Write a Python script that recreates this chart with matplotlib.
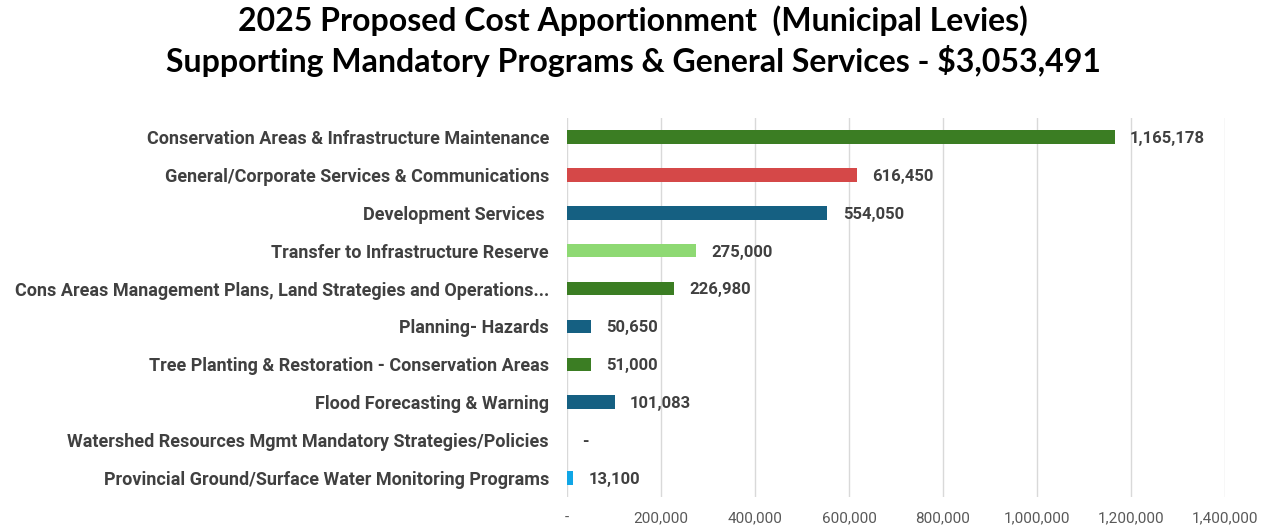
import matplotlib
matplotlib.use("Agg")
import matplotlib.pyplot as plt
from matplotlib.ticker import FuncFormatter

# data (top to bottom as shown)
categories = [
    "Conservation Areas & Infrastructure Maintenance",
    "General/Corporate Services & Communications",
    "Development Services ",
    "Transfer to Infrastructure Reserve",
    "Cons Areas Management Plans, Land Strategies and Operations...",
    "Planning- Hazards",
    "Tree Planting & Restoration - Conservation Areas",
    "Flood Forecasting & Warning",
    "Watershed Resources Mgmt Mandatory Strategies/Policies",
    "Provincial Ground/Surface Water Monitoring Programs",
]
values = [1165178, 616450, 554050, 275000, 226980, 50650, 51000, 101083, 0, 13100]
colors = ["#3B7D23", "#D54848", "#156082", "#8ED973", "#3B7D23",
          "#156082", "#3B7D23", "#156082", "#156082", "#10A6E6"]

title = ("2025 Proposed Cost Apportionment  (Municipal Levies)\n"
         "Supporting Mandatory Programs & General Services - $3,053,491")

narrow = ["Roboto", "DejaVu Sans"]
txt_col = "#404040"

fig = plt.figure(figsize=(12.66, 5.27), dpi=100)
ax = fig.add_axes([567 / 1266, 1 - 497 / 527, (1225 - 567) / 1266, (497 - 118) / 527])

ypos = list(range(len(categories)))
ax.barh(ypos, values, height=0.36, color=colors, zorder=3)
ax.set_ylim(len(categories) - 0.5, -0.5)
ax.set_xlim(0, 1400000)
ax.set_xticks(range(0, 1400001, 200000))
ax.xaxis.set_major_formatter(FuncFormatter(lambda v, p: "-" if v == 0 else f"{v:,.0f}"))
ax.grid(axis="x", color="#D9D9D9", lw=1, zorder=0)
for s in ax.spines.values():
    s.set_visible(False)
ax.tick_params(axis="both", length=0)
ax.tick_params(axis="x", pad=10, labelsize=11, labelcolor="#595959")
ax.tick_params(axis="y", pad=13)
ax.set_yticks(ypos)
ax.set_yticklabels(categories)
for lab in ax.get_yticklabels():
    lab.set_family(narrow)
    lab.set_fontweight("bold")
    lab.set_fontsize(13)
    lab.set_color(txt_col)
for lab in ax.get_xticklabels():
    lab.set_family(narrow)

for y, v in zip(ypos, values):
    s = "-" if v == 0 else f"{v:,.0f}"
    ax.annotate(s, (v, y), xytext=(11, -1), textcoords="offset points",
                va="center", ha="left", fontsize=12, fontweight="bold",
                color=txt_col, family=narrow)

fig.text(0.5, 0.99, title, ha="center", va="top", fontsize=23,
         fontweight="bold", family=["Lato", "DejaVu Sans"], linespacing=1.35)

fig.savefig("out.png", dpi=100)
